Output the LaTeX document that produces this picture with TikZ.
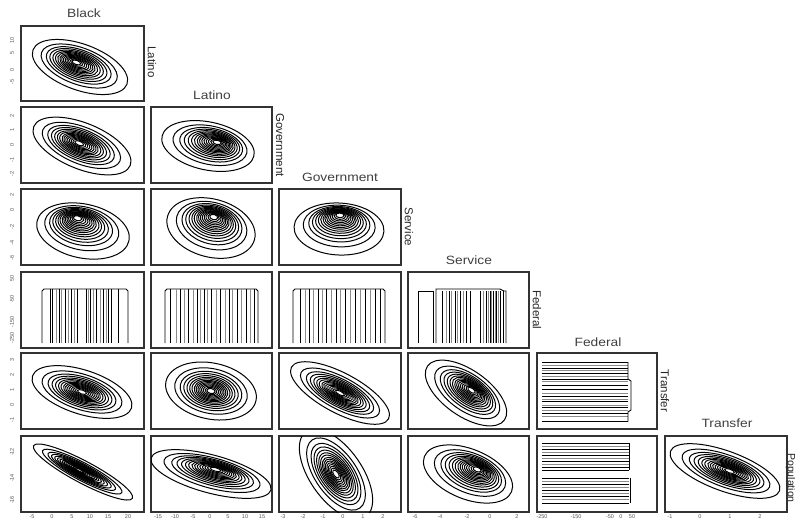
\documentclass[tikz,border=0pt]{standalone}
\usepackage{fontspec}
\setmainfont{Liberation Sans}
\newcommand\contourset[7]{%
  \begin{scope}[shift={(#1,#2)}]
  \foreach \s in {1,.8,.68,.6,.53,.47,.42,.37,.33,.29,.25,.21,.17,.13,.09}{%
    \draw[ct,shift={({(1-\s)*#6},{(1-\s)*#7})},rotate=#5] (0,0) ellipse ({#3*\s} and {#4*\s});}
  \end{scope}}
\begin{document}
\begin{tikzpicture}[x=1pt,y=-1pt,
  panel/.style={draw=black!80,line width=1.2pt},
  ct/.style={line width=1pt,black},
  bar/.style={line width=0.9pt,black},
  gbar/.style={line width=0.9pt,black!45},
  ttl/.style={font=\fontsize{12}{14}\selectfont,text=black!75,xscale=1.15},
  side/.style={font=\fontsize{11.5}{13}\selectfont,rotate=-90,text=black!85},
  tick/.style={font=\fontsize{5.5}{6}\selectfont,text=black!65,inner sep=0pt}]
\useasboundingbox (0,0) rectangle (795,520);
\fill[white] (0,0) rectangle (795,520);
% ---------- panel frames ----------
\foreach \l/\r [count=\c] in {21/144,151/272,279/401,408/529,537/657,665/787}{
  \foreach \t/\b [count=\rr] in {26/101,107/183,189/265,272/348,353/429,436/512}{
    \ifnum\c>\rr\else\draw[panel] (\l,\t) rectangle (\r,\b);\fi}}
% ---------- titles ----------
\node[ttl] (tBlack) at (84,13) {Black};
\node[ttl] (tLatino) at (212,95) {Latino};
\node[ttl] (tGov) at (340,177) {Government};
\node[ttl] (tServ) at (469,260) {Service};
\node[ttl] (tFed) at (598,342) {Federal};
\node[ttl] (tTrans) at (727,423) {Transfer};
% ---------- side labels ----------
\node[side] (sLatino) at (152,62) {Latino};
\node[side] (sGov) at (280,145) {Government};
\node[side] (sServ) at (409,227) {Service};
\node[side] (sFed) at (537,310) {Federal};
\node[side] (sTrans) at (665,391) {Transfer};
\node[side,font=\fontsize{10.5}{12}\selectfont,inner sep=0pt] (sPop) at (790.5,478) {Population};
% ---------- contour panels ----------
\begin{scope}\clip (21,26) rectangle (144,101); \contourset{80}{67}{50}{23}{-20}{-4}{-5}\end{scope}
\begin{scope}\clip (21,107) rectangle (144,183); \contourset{82}{146}{52}{23}{-22}{-3}{-3}\end{scope}
\begin{scope}\clip (151,107) rectangle (272,183); \contourset{208}{146}{47}{24}{-12}{10}{-4}\end{scope}
\begin{scope}\clip (21,189) rectangle (144,265); \contourset{83}{231}{47}{27}{-12}{-6}{-14}\end{scope}
\begin{scope}\clip (151,189) rectangle (272,265); \contourset{211}{228}{45}{29}{-15}{3}{-12}\end{scope}
\begin{scope}\clip (279,189) rectangle (401,265); \contourset{339}{229}{45}{26}{-3}{1}{-15}\end{scope}
\begin{scope}\clip (21,353) rectangle (144,429); \contourset{82}{392}{52}{22}{-18}{0}{0}\end{scope}
\begin{scope}\clip (151,353) rectangle (272,429); \contourset{211}{391}{46}{28}{-12}{0}{0}\end{scope}
\begin{scope}\clip (279,353) rectangle (401,429); \contourset{340}{393}{55}{20}{-28}{0}{0}\end{scope}
\begin{scope}\clip (408,353) rectangle (529,429); \contourset{466}{393}{47}{23}{-35}{6}{-3}\end{scope}
\begin{scope}\clip (21,436) rectangle (144,512); \contourset{83}{472}{56}{11}{-28}{-4}{-2}\end{scope}
\begin{scope}\clip (151,436) rectangle (272,512); \contourset{211}{474}{62}{19}{-15}{5}{-5}\end{scope}
\begin{scope}\clip (279,436) rectangle (401,512); \contourset{336}{474}{52}{26}{-55}{0}{0}\end{scope}
\begin{scope}\clip (408,436) rectangle (529,512); \contourset{468}{474}{47}{25}{-22}{10}{-5}\end{scope}
\begin{scope}\clip (665,436) rectangle (787,512); \contourset{725}{471}{58}{20}{-20}{5}{0}\end{scope}
% ---------- Federal row (vertical bars) ----------
\draw[bar] (42,343) -- (42,291) -- (44,289) -- (126,289) -- (128,291) -- (128,343);
\foreach \x in {50,52.7,59.3,65,71,77.3,86,90.7,96.7,103.3,108.3,111.7,118.3}{\draw[bar] (\x,289) -- (\x,343);}
\foreach \x in {56.7,61.7,68.3,74,88.3,93.3,100.7,106}{\draw[gbar] (\x,289) -- (\x,343);}
\draw[bar] (165,343) -- (165,291) -- (167,289) -- (256,289) -- (258,291) -- (258,343);
\foreach \x in {170,180,188,197,204,211,220,229,237,246,254}{\draw[bar] (\x,289) -- (\x,343);}
\foreach \x in {176,184,193,200,207,216,225,232,241,250}{\draw[gbar] (\x,289) -- (\x,343);}
\draw[bar] (293,343) -- (293,291) -- (295,289) -- (383,289) -- (385,291) -- (385,343);
\foreach \x in {300,309,318,326,336,345,355,365,375,380}{\draw[bar] (\x,289) -- (\x,343);}
\foreach \x in {305,313,322,331,340,350,360,370}{\draw[gbar] (\x,289) -- (\x,343);}
\draw[bar] (418,343) -- (418,291) -- (433,291);
\draw[bar] (436,343) -- (436,289) -- (500,289) -- (504,291) -- (506,291) -- (506,343);
\foreach \x in {433.3,442.7,449.3,455,460,466.7,470,480,486,490,493.3,496.7,500,503.3}{\draw[bar] (\x,291) -- (\x,343);}
\foreach \x in {446.7,451.7,457.3,463.3,483.3,488.3,491.7,495,498.3}{\draw[gbar] (\x,291) -- (\x,343);}
% ---------- Federal column (horizontal bars) ----------
\foreach \y in {362,368.3,373.3,379.3,385,389.3,396,401.7,407.7,413.3,421.7}{\draw[bar] (542,\y) -- (628,\y);}
\foreach \y in {365,370.7,376,381.7,393.3,399.3,405,410,416.7}{\draw[gbar] (542,\y) -- (628,\y);}
\draw[bar] (628,362) -- (628,379) -- (631,381) -- (631,410) -- (628,412) -- (628,421.7);
\foreach \y in {443,449,455,461,467,470,478,484,490,496,503}{\draw[bar] (542,\y) -- (629,\y);}
\foreach \y in {446,452,458,464,481,487,493,499}{\draw[gbar] (542,\y) -- (629,\y);}
\draw[bar] (629,443) -- (629,470) (630,478) -- (630,503);
% ---------- tick labels, left ----------
\foreach \y/\t in {40/10,53/5,70/0,82/-5,
  116/2,130/1,145/0,160/-1,174/-2,
  195/2,210/0,227/-2,243/-4,258/-6,
  278/50,299/-50,322/-150,338/-250,
  360/3,375/2,390/1,405/0,420/-1,
  452/-12,478/-14,500/-16}{\node[tick,rotate=90] (yl\y) at (12,\y) {\t};}
% ---------- tick labels, bottom ----------
\foreach \x/\t in {32/-5,52/0,72/5,90/10,108/15,128/20,
  158/-15,175/-10,193/-5,210/0,228/5,245/10,262/15,
  283/-3,303/-2,323/-1,343/0,363/1,383/2,
  415/-6,440/-4,467/-2,490/0,517/2,
  542/-250,576/-150,610/-50,621/0,632/50,
  670/-1,700/0,730/1,760/2}{\node[tick] (xl\x) at (\x,517) {\t};}
\end{tikzpicture}
\end{document}
